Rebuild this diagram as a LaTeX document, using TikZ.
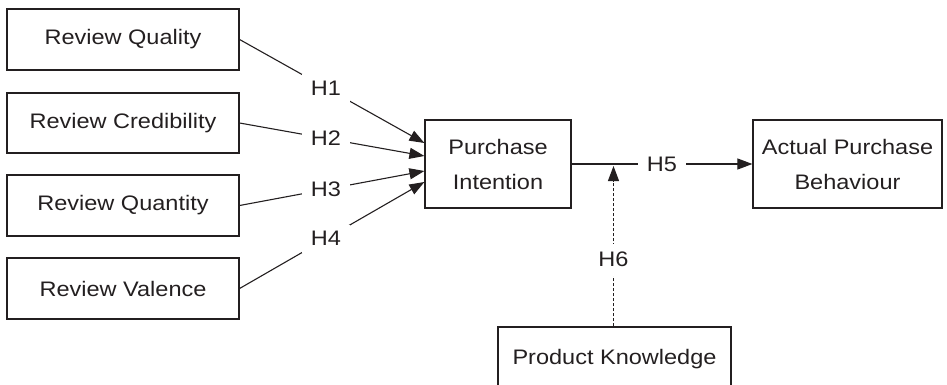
\documentclass[tikz,border=0pt]{standalone}
\usepackage{fontspec}
\setmainfont[FakeStretch=1.12]{Liberation Sans}
\usetikzlibrary{arrows.meta}
\definecolor{ink}{HTML}{231F20}
\begin{document}
\begin{tikzpicture}[x=1pt,y=-1pt,
  box/.style={draw=ink, line width=1.2pt, inner sep=0pt, text=ink,
    font=\fontsize{21}{35}\selectfont, align=center},
  conn/.style={draw=ink, line width=1.1pt, -{Triangle[length=15pt,width=11pt]}},
  hlab/.style={fill=white, text=ink, inner xsep=9pt, inner ysep=7pt,
    font=\fontsize{21}{25}\selectfont},
  vlab/.style={fill=white, text=ink, inner xsep=4pt, inner ysep=8.5pt,
    font=\fontsize{21}{25}\selectfont}]
\useasboundingbox (0,0) rectangle (947,385);
\clip (0,0) rectangle (947,385);

\node[box, minimum width=232pt, minimum height=61pt] (rq)  at (123,39.5)  {Review Quality};
\node[box, minimum width=232pt, minimum height=60pt] (rc)  at (123,123)   {Review Credibility};
\node[box, minimum width=232pt, minimum height=61pt] (rqt) at (123,205.5) {Review Quantity};
\node[box, minimum width=232pt, minimum height=61pt] (rv)  at (123,288.5) {Review Valence};
\node[box, minimum width=146pt, minimum height=88pt] (pi)  at (498,164)   {Purchase\\Intention};
\node[box, minimum width=189pt, minimum height=88pt] (apb) at (847.5,164) {Actual Purchase\\Behaviour};
\node[box, minimum width=233pt, minimum height=90pt, text depth=0pt] (pk) at (614.5,372) {};
\node[text=ink, font=\fontsize{21}{25}\selectfont] at (614.5,359) {Product Knowledge};

\draw[conn] (rq.east)  -- node[hlab, pos=0.467] {H1} ([yshift=21pt]pi.west);
\draw[conn] (rc.east)  -- node[hlab, pos=0.467] {H2} ([yshift=8pt]pi.west);
\draw[conn] (rqt.east) -- node[hlab, pos=0.467] {H3} ([yshift=-7pt]pi.west);
\draw[conn] (rv.east)  -- node[hlab, pos=0.467] {H4} ([yshift=-18pt]pi.west);
\draw[conn] (pi.east) -- node[hlab, pos=0.5] {H5} (apb.west);

\coordinate (mod) at (613.5,166);
\draw[conn, dash pattern=on 3pt off 2pt] ([xshift=-1pt]pk.north) -- node[vlab, pos=0.416] {H6} (mod);
\end{tikzpicture}
\end{document}
